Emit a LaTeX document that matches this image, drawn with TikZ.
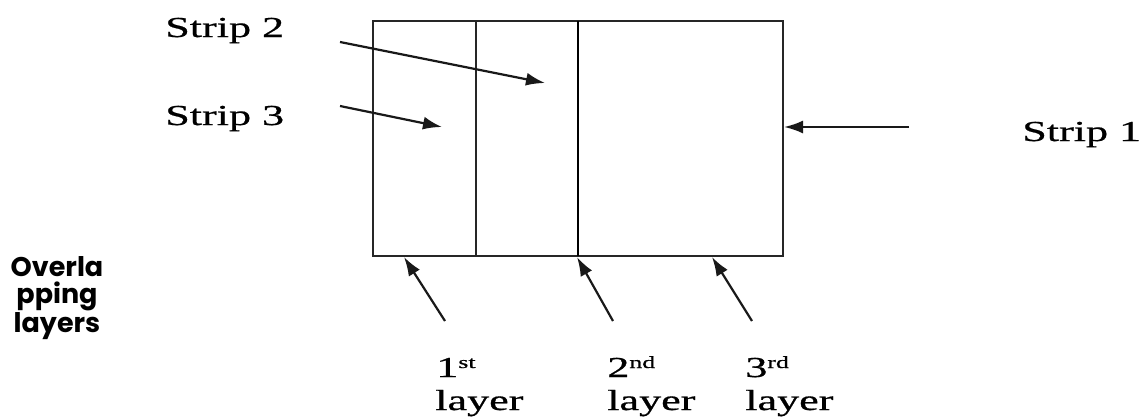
\documentclass[tikz,border=0pt]{standalone}
\usepackage{fontspec}
\setmainfont{Liberation Serif}[FakeBold=0.6]
\newfontfamily\gothic{Poppins}
\usetikzlibrary{arrows.meta}
\tikzset{
  lbl/.style={inner sep=0pt, anchor=base west, font=\fontsize{29}{33}\selectfont, xscale=1.52, transform shape},
  boxline/.style={line width=1.8pt, draw=black!85},
  arr/.style={line width=2.2pt, draw=black!90, -{Latex[length=19pt,width=13pt]}},
  side/.style={inner sep=0pt, align=center, font=\gothic\bfseries\fontsize{27}{27}\selectfont}
}
\begin{document}
\begin{tikzpicture}[x=1pt,y=-1pt]
\useasboundingbox (0,0) rectangle (1141,416);
% box
\coordinate (tl) at (373,21);
\coordinate (br) at (783,256);
\coordinate (d1t) at (476,21);
\coordinate (d1b) at (476,256);
\coordinate (d2t) at (578,21);
\coordinate (d2b) at (578,256);
\draw[boxline] (tl) rectangle (br);
\draw[boxline] (d1t) -- (d1b);
\draw[boxline, line width=2.1pt, draw=black] (d2t) -- (d2b);
% labels
\node[lbl] (s2) at (165,37) {Strip 2};
\node[lbl] (s3) at (165,125) {Strip 3};
\node[lbl] (s1) at (1022,141) {Strip 1};
\node[lbl] (n1) at (436,377) {1\raisebox{9pt}{\fontsize{17}{20}\selectfont st}};
\node[lbl] (y1) at (435,410) {layer};
\node[lbl] (n2) at (607,377) {2\raisebox{9pt}{\fontsize{17}{20}\selectfont nd}};
\node[lbl] (y2) at (607,410) {layer};
\node[lbl] (n3) at (745,377) {3\raisebox{9pt}{\fontsize{17}{20}\selectfont rd}};
\node[lbl] (y3) at (745,410) {layer};
\node[side, anchor=base] (ov) at (57,332) {Overla\\pping\\layers};
% arrows
\coordinate (a2s) at (340,42);  \coordinate (a2e) at (545,83);
\coordinate (a3s) at (340,106); \coordinate (a3e) at (442,127);
\coordinate (a1s) at (909,127); \coordinate (a1e) at (784,127);
\coordinate (b1s) at (445,321); \coordinate (b1e) at (404,257);
\coordinate (b2s) at (613,321); \coordinate (b2e) at (577,257);
\coordinate (b3s) at (752,321); \coordinate (b3e) at (712,257);
\draw[arr] (a2s) -- (a2e);
\draw[arr] (a3s) -- (a3e);
\draw[arr] (a1s) -- (a1e);
\draw[arr] (b1s) -- (b1e);
\draw[arr] (b2s) -- (b2e);
\draw[arr] (b3s) -- (b3e);
\end{tikzpicture}
\end{document}
